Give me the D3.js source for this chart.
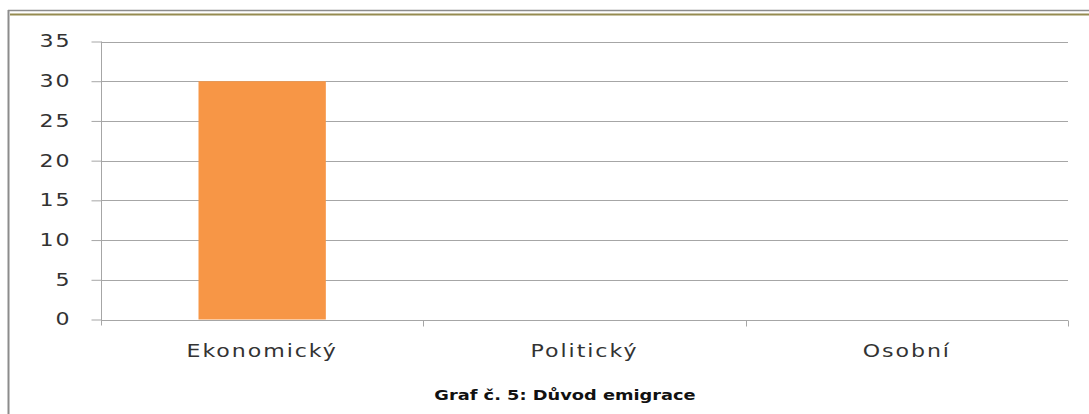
<!DOCTYPE html>
<html>
<head>
<meta charset="utf-8">
<script src="https://cdn.jsdelivr.net/npm/d3@7"></script>
<style>
  body { margin: 0; background: #fff; }
  svg { display: block; }
  .tick text { font-family: "DejaVu Sans", sans-serif; fill: #333; }
</style>
</head>
<body>
<div id="graf"></div>
<script>
// data
const kategorije = ["Ekonomický", "Politický", "Osobní"]
const vrijednosti = [30, 0, 0]
const yTikovi = [0, 5, 10, 15, 20, 25, 30, 35]
const naslov = "Graf č. 5: Důvod emigrace"

const sirina = 1089, visina = 414
const razvuci = 1.3   // text in the original is stretched horizontally

const okvir = d3.select("#graf").append("svg")
  .attr("width", sirina)
  .attr("height", visina)

// page frame
okvir.append("line").attr("x1", 8).attr("x2", sirina).attr("y1", 10.5).attr("y2", 10.5)
  .attr("stroke", "#8c8c8c").attr("stroke-width", 1.5)
okvir.append("line").attr("x1", 10).attr("x2", sirina).attr("y1", 14.5).attr("y2", 14.5)
  .attr("stroke", "#958b50").attr("stroke-width", 2)
okvir.append("line").attr("x1", 8.5).attr("x2", 8.5).attr("y1", 10).attr("y2", visina)
  .attr("stroke", "#8c8c8c").attr("stroke-width", 2)

const lijevo = 101, desno = 1068, gore = 41.5, dolje = 319.5

const y = d3.scaleLinear().domain([0, 35]).range([dolje, gore])
const x = d3.scaleBand().domain(kategorije).range([lijevo, desno]).padding(0)
const xStupac = d3.scaleBand().domain(kategorije).range([lijevo, desno])
  .paddingInner(0.605).paddingOuter(0.3025)

// gridlines
okvir.append("g").selectAll("line")
  .data(yTikovi.filter(d => d > 0))
  .enter().append("line")
    .attr("x1", lijevo).attr("x2", desno)
    .attr("y1", d => Math.round(y(d)) + 0.5).attr("y2", d => Math.round(y(d)) + 0.5)
    .attr("stroke", "#a6a6a6")

// bars
okvir.append("g").selectAll("rect")
  .data(kategorije)
  .enter().append("rect")
    .attr("x", d => xStupac(d))
    .attr("width", xStupac.bandwidth())
    .attr("y", (d, i) => y(vrijednosti[i]))
    .attr("height", (d, i) => y(0) - y(vrijednosti[i]))
    .attr("fill", "#f79646")

// y axis
const yOs = okvir.append("g")
  .attr("transform", `translate(${lijevo + 0.5},0)`)
  .call(d3.axisLeft(y).tickValues(yTikovi).tickSize(10).tickPadding(13))
yOs.select(".domain").attr("stroke", "#a6a6a6").attr("d", `M0,${gore}V${dolje + 6}`)
yOs.selectAll(".tick line").attr("stroke", "#a6a6a6")
yOs.selectAll(".tick text")
  .attr("font-size", 17)
  .attr("letter-spacing", 1.5)
  .attr("transform", `scale(${razvuci},1)`)

// x axis
const xOs = okvir.append("g")
  .attr("transform", `translate(0,${Math.round(dolje) + 0.5})`)
  .call(d3.axisBottom(x).tickSize(0).tickPadding(24))
xOs.select(".domain").attr("stroke", "#a6a6a6").attr("d", `M${lijevo},0H${desno}`)
xOs.selectAll(".tick text")
  .attr("font-size", 17)
  .attr("letter-spacing", 1.5)
  .attr("transform", `scale(${razvuci},1)`)
xOs.selectAll(".granica")
  .data(kategorije)
  .enter().append("line")
    .attr("class", "granica")
    .attr("x1", d => Math.round(x(d) + x.bandwidth()) + 0.5)
    .attr("x2", d => Math.round(x(d) + x.bandwidth()) + 0.5)
    .attr("y1", 0).attr("y2", 6)
    .attr("stroke", "#a6a6a6")

// title
okvir.append("text")
  .attr("transform", `translate(565,400) scale(1.27,1)`)
  .attr("text-anchor", "middle")
  .attr("font-family", "DejaVu Sans, sans-serif")
  .attr("font-weight", "bold")
  .attr("font-size", 14)
  .attr("fill", "#111")
  .text(naslov)
</script>
</body>
</html>
